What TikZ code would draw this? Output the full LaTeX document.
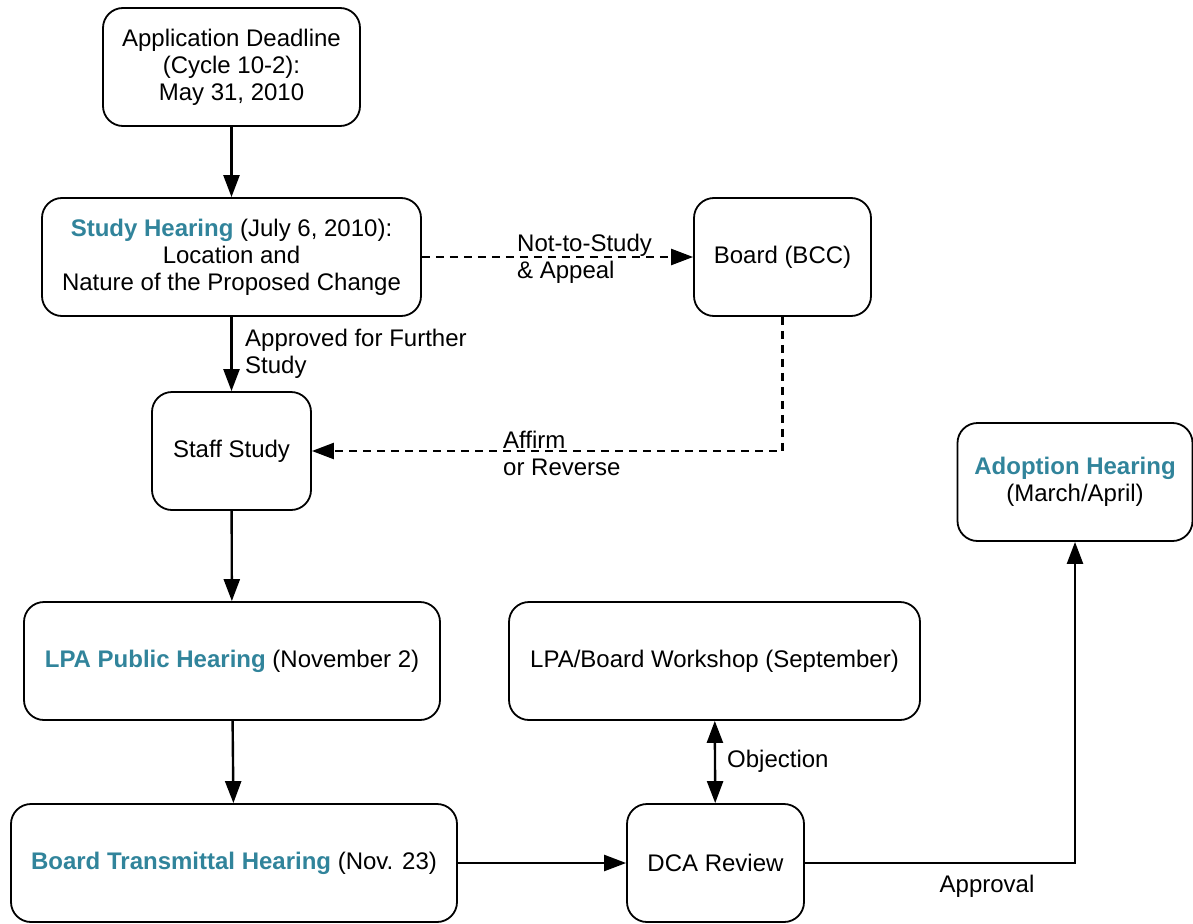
\documentclass[tikz,border=0pt]{standalone}
\usepackage{fontspec}
\setmainfont{Liberation Sans}
\usetikzlibrary{arrows.meta}
\definecolor{teal}{RGB}{49,132,155}
\newcommand{\hl}[1]{\textbf{\textcolor{teal}{#1}}}
\begin{document}
\begin{tikzpicture}[x=1pt,y=-1pt,
  box/.style={draw,line width=1.8pt,rounded corners=20pt,align=center,inner sep=0pt,
    font=\fontsize{24}{27}\selectfont},
  lbl/.style={align=left,inner sep=0pt,font=\fontsize{24}{27}\selectfont},
  tip/.tip={Triangle[length=22pt,width=16pt]},
  arr/.style={line width=2.4pt,-tip},
  darr/.style={arr,dash pattern=on 8pt off 6pt}]
\useasboundingbox (0,0) rectangle (1193,923);
\node[box,minimum width=257pt,minimum height=118pt] (app) at (231.5,67) {Application Deadline\\(Cycle 10-2):\\May 31, 2010};
\node[box,minimum width=379pt,minimum height=118pt] (study) at (231.5,257) {\hl{Study Hearing} (July 6, 2010):\\Location and\\Nature of the Proposed Change};
\node[box,minimum width=177pt,minimum height=118pt] (board) at (782.5,257) {Board (BCC)};
\node[box,minimum width=159pt,minimum height=118pt] (staff) at (231.5,451) {Staff Study};
\node[box,minimum width=235pt,minimum height=118pt] (adopt) at (1075,482) {\hl{Adoption Hearing}\\(March/April)};
\node[box,minimum width=416pt,minimum height=118pt] (lpa) at (232,661) {\hl{LPA Public Hearing} (November 2)};
\node[box,minimum width=411pt,minimum height=118pt] (work) at (714.5,661) {LPA/Board Workshop (September)};
\node[box,minimum width=446pt,minimum height=118pt] (bt) at (234,863) {\hl{Board Transmittal Hearing} (Nov. 23)};
\node[box,minimum width=177pt,minimum height=118pt] (dca) at (715.5,863) {DCA Review};

\draw[arr] (app) -- (study);
\draw[darr] (study) -- (board);
\node[lbl,anchor=west] (l1) at (517,259) {Not-to-Study\\\& Appeal};
\draw[arr] (study) -- (staff);
\node[lbl,anchor=west] (l2) at (245,354) {Approved for Further\\Study};
\draw[darr] (board.south) |- (staff.east);
\node[lbl,anchor=west] (l3) at (503,453) {Affirm\\or Reverse};
\draw[arr] (staff) -- (lpa);
\draw[arr] (lpa) -- (bt);
\draw[arr] (bt) -- (dca);
\draw[line width=2.4pt,tip-tip] (dca) -- (work);
\node[lbl,anchor=west] (l4) at (727,761) {Objection};
\draw[arr] (dca.east) -| (adopt.south);
\node[lbl] (l5) at (987,886) {Approval};
\end{tikzpicture}
\end{document}
